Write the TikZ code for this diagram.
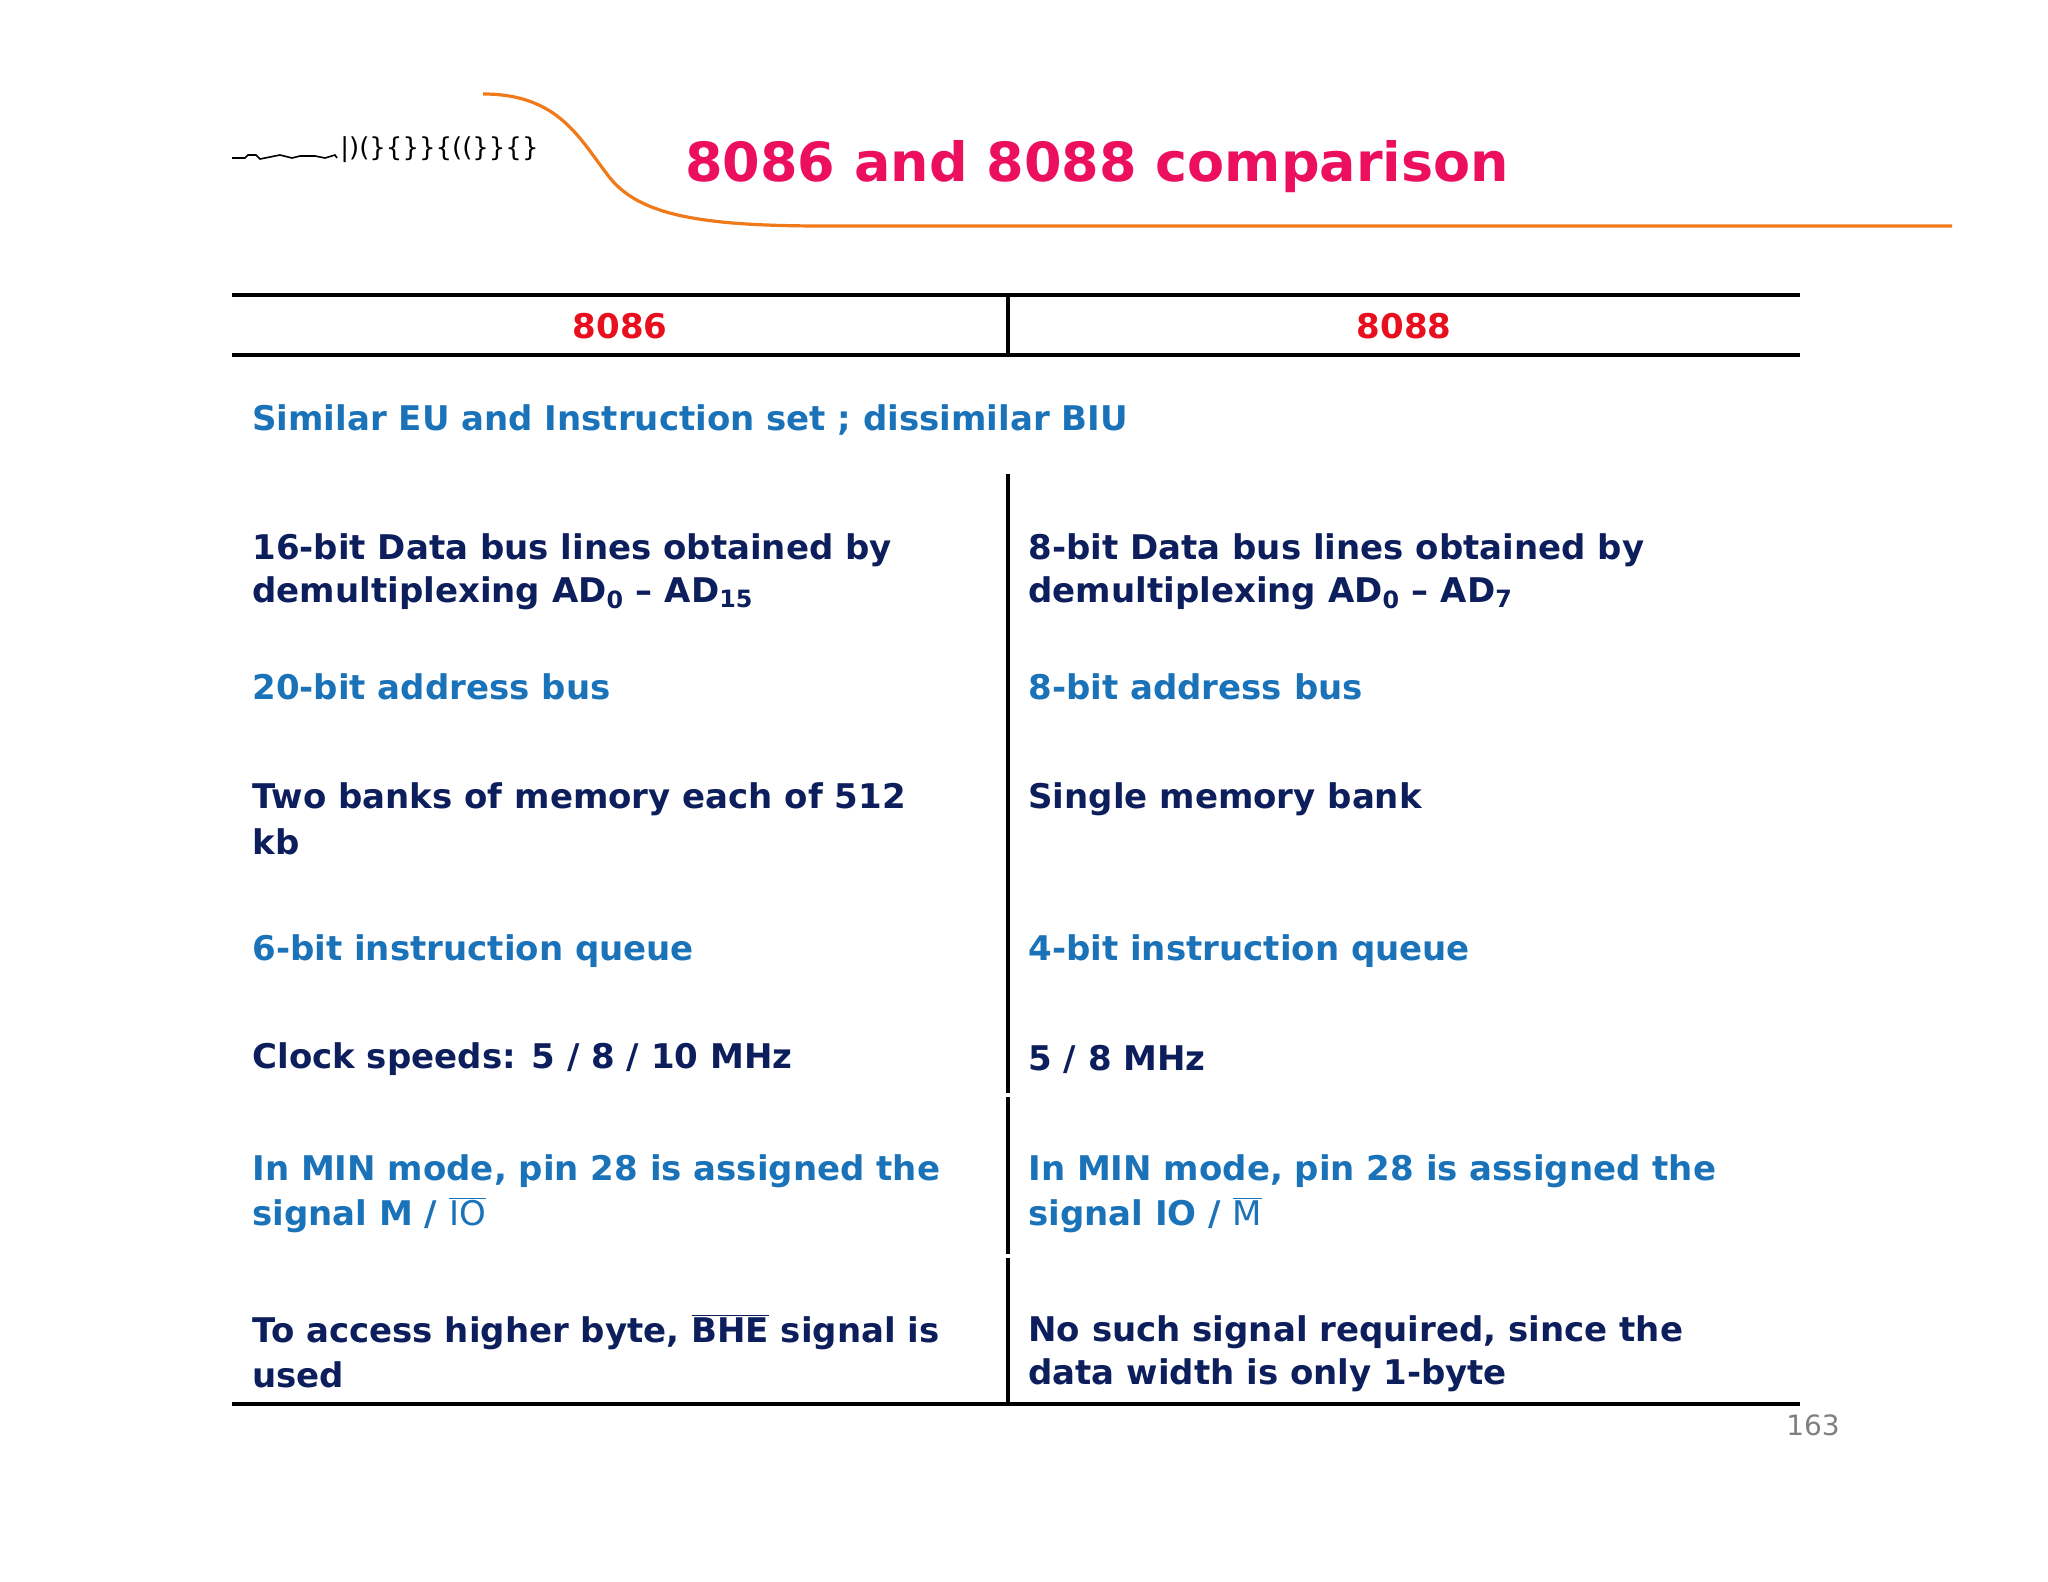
\documentclass[tikz,border=0pt]{standalone}
\usepackage{fontspec}
\setmainfont{DejaVu Sans}
\definecolor{navy}{HTML}{0D1E5C}
\definecolor{lblue}{HTML}{1A72B9}
\definecolor{hred}{HTML}{E8101E}
\definecolor{pink}{HTML}{EC0F5E}
\definecolor{orng}{HTML}{F07A1A}
\newcommand{\sbx}[1]{\textsubscript{#1}}
\begin{document}
\begin{tikzpicture}[x=0.5pt,y=-0.5pt,
  dk/.style={anchor=west,inner sep=0pt,font=\fontsize{17}{21.5}\selectfont\bfseries,text=navy},
  bl/.style={anchor=west,inner sep=0pt,font=\fontsize{17}{21.5}\selectfont\bfseries,text=lblue},
  hd/.style={inner sep=0pt,font=\fontsize{17}{21.5}\selectfont\bfseries,text=hred},
  rule/.style={line width=1.6pt,black}]
\useasboundingbox (0,0) rectangle (2048,1582);
\fill[white] (0,0) rectangle (2048,1582);
% logo
\draw[line width=0.8pt] (232,158) -- (245,158) -- (248,155) -- (256,155) -- (260,159) -- (270,157) -- (280,155) -- (292,158) -- (300,156) -- (315,156) -- (325,158) -- (335,155) -- (337,158);
\node[anchor=west,inner sep=0pt,font=\fontsize{13}{13}\selectfont\rmfamily] (logo) at (340,150) {|)(\}\{\}\}\{((\}\}\{\}};
% orange curve
\coordinate (c0) at (483,94);
\coordinate (c1) at (823,226);
\coordinate (c2) at (1952,226);
\draw[orng,line width=1.6pt] (c0) .. controls (560,94) and (580,140) .. (610,178) .. controls (640,215) and (700,226) .. (c1) -- (c2);
\node[font=\fontsize{27}{30}\selectfont\bfseries,text=pink,inner sep=0pt] (title) at (1097,167) {8086 and 8088 comparison};
% table lines
\draw[rule] (232,295) -- (1800,295);
\draw[rule] (232,355) -- (1800,355);
\draw[rule] (232,1404) -- (1800,1404);
\draw[rule] (1008,295) -- (1008,355);
\draw[rule] (1008,474) -- (1008,1093);
\draw[rule] (1008,1097) -- (1008,1254);
\draw[rule] (1008,1258) -- (1008,1404);
\node[hd] (h1) at (620,326) {8086};
\node[hd] (h2) at (1404,326) {8088};
\node[bl] (sim) at (252,420) {Similar EU and Instruction set ; dissimilar BIU};
% left
\node[dk] at (252,550) {16-bit Data bus lines obtained by};
\node[dk] at (252,593) {demultiplexing AD\sbx{0} – AD\sbx{15}};
\node[bl] at (252,687) {20-bit address bus};
\node[dk] at (252,799) {Two banks of memory each of 512};
\node[dk] at (252,842) {kb};
\node[bl] at (252,951) {6-bit instruction queue};
\node[dk] at (252,1059) {Clock speeds: 5 / 8 / 10 MHz};
\node[bl] at (252,1171) {In MIN mode, pin 28 is assigned the};
\node[bl] at (252,1215) {signal M / $\overline{\mathrm{IO}}$};
\node[dk] at (252,1332) {To access higher byte, $\overline{\mathbf{BHE}}$ signal is};
\node[dk] at (252,1375) {used};
% right
\node[dk] at (1028,550) {8-bit Data bus lines obtained by};
\node[dk] at (1028,593) {demultiplexing AD\sbx{0} – AD\sbx{7}};
\node[bl] at (1028,687) {8-bit address bus};
\node[dk] at (1028,799) {Single memory bank};
\node[bl] at (1028,951) {4-bit instruction queue};
\node[dk] at (1028,1059) {5 / 8 MHz};
\node[bl] at (1028,1171) {In MIN mode, pin 28 is assigned the};
\node[bl] at (1028,1215) {signal IO / $\overline{\mathrm{M}}$};
\node[dk] at (1028,1332) {No such signal required, since the};
\node[dk] at (1028,1375) {data width is only 1-byte};
\node[text=gray,font=\fontsize{14}{14}\selectfont,inner sep=0pt] (pg) at (1813,1425) {163};
\end{tikzpicture}
\end{document}
